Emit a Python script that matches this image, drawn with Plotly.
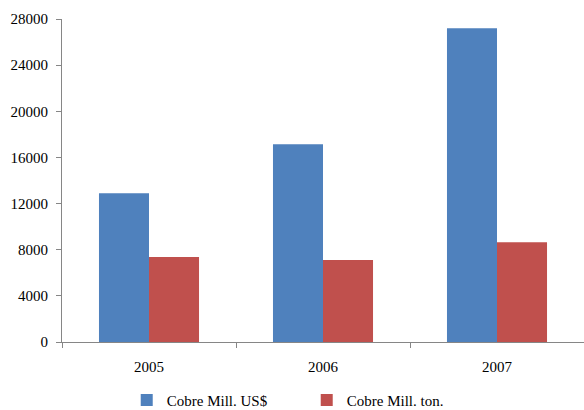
import plotly.graph_objects as go

years = ["2005", "2006", "2007"]
usd = [12900, 17150, 27200]
ton = [7370, 7100, 8650]
y_ticks = [0, 4000, 8000, 12000, 16000, 20000, 24000, 28000]

font_family = "Liberation Serif"
axis_color = "#868686"

fig = go.Figure()
fig.add_trace(go.Bar(x=years, y=usd, name="Cobre Mill. US$", marker_color="#4F81BD",
                     marker_line_width=0))
fig.add_trace(go.Bar(x=years, y=ton, name="Cobre Mill. ton.", marker_color="#C0504D",
                     marker_line_width=0))

fig.update_layout(
    width=584, height=410,
    margin=dict(l=62, r=0, t=19, b=68),
    paper_bgcolor="white", plot_bgcolor="white",
    barmode="group", bargap=0.425, bargroupgap=0,
    font=dict(family=font_family, size=15, color="black"),
    legend=dict(orientation="h", x=0.124, xanchor="left",
                yref="container", y=0.024, yanchor="middle",
                font=dict(family=font_family, size=15, color="black"),
                entrywidth=135, entrywidthmode="pixels", itemwidth=30),
)
fig.update_xaxes(
    type="category", showline=True, linecolor=axis_color, linewidth=1,
    ticks="outside", tickson="boundaries", ticklen=5, tickcolor=axis_color,
    showgrid=False, ticklabelstandoff=11, automargin=False,
    tickfont=dict(family=font_family, size=15, color="black"),
)
fig.update_yaxes(
    range=[0, 28000], tickvals=y_ticks, ticktext=[str(v) for v in y_ticks],
    showline=True, linecolor=axis_color, linewidth=1,
    ticks="outside", ticklen=5, tickcolor=axis_color,
    showgrid=False, zeroline=False, ticklabelstandoff=5, automargin=False,
    tickfont=dict(family=font_family, size=15, color="black"),
)

fig.write_html(
    "out.html",
    config={"displayModeBar": False},
    post_script="document.body.style.margin='0';document.body.style.overflow='hidden';",
)
